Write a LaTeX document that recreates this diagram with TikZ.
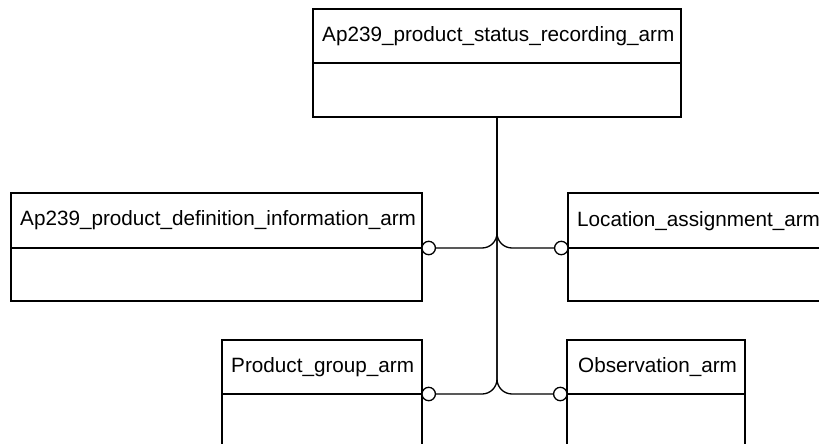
\documentclass[tikz,border=0pt]{standalone}
\usepackage{fontspec}
\setmainfont{Liberation Sans}
\begin{document}
\begin{tikzpicture}[x=1pt,y=1pt,
  box/.style={draw, line width=1.3pt, minimum height=108pt, anchor=north west, inner sep=0pt, outer sep=0pt},
  lbl/.style={anchor=base west, inner sep=0pt, font=\fontsize{20.7}{24}\selectfont},
  ring/.style={circle, draw, fill=white, line width=1.3pt, minimum size=13.4pt, inner sep=0pt, outer sep=0pt},
  conn/.style={line width=1.3pt, rounded corners=15pt},
  divider/.style={line width=1.3pt}]
\useasboundingbox (0,0) rectangle (819,-444);
\clip (0,0) rectangle (819,-444);
% boxes
\node[box, minimum width=368pt] (top) at (313,-9) {};
\node[box, minimum width=411pt] (pdi) at (11,-193) {};
\node[box, minimum width=262pt] (loc) at (568,-193) {};
\node[box, minimum width=200pt] (pg)  at (222,-340) {};
\node[box, minimum width=178pt] (obs) at (567,-340) {};
% dividers
\draw[divider] ([yshift=-54pt]top.north west) -- ([yshift=-54pt]top.north east);
\draw[divider] ([yshift=-55pt]pdi.north west) -- ([yshift=-55pt]pdi.north east);
\draw[divider] ([yshift=-55pt]loc.north west) -- ([yshift=-55pt]loc.north east);
\draw[divider] ([yshift=-54pt]pg.north west) -- ([yshift=-54pt]pg.north east);
\draw[divider] ([yshift=-54pt]obs.north west) -- ([yshift=-54pt]obs.north east);
% labels
\node[lbl] (topt) at ([xshift=9pt,yshift=-32.5pt]top.north west) {Ap239\_product\_status\_recording\_arm};
\node[lbl] (pdit) at ([xshift=9pt,yshift=-32.5pt]pdi.north west) {Ap239\_product\_definition\_information\_arm};
\node[lbl] (loct) at ([xshift=9pt,yshift=-33.5pt]loc.north west) {Location\_assignment\_arm};
\node[lbl] (pgt)  at ([xshift=9pt,yshift=-32pt]pg.north west) {Product\_group\_arm};
\node[lbl] (obst) at ([xshift=11pt,yshift=-32pt]obs.north west) {Observation\_arm};
% rings
\node[ring] (r1) at ([xshift=6.7pt,yshift=-55pt]pdi.north east) {};
\node[ring] (r2) at ([xshift=-6.7pt,yshift=-55pt]loc.north west) {};
\node[ring] (r3) at ([xshift=6.7pt,yshift=-54pt]pg.north east) {};
\node[ring] (r4) at ([xshift=-6.7pt,yshift=-54pt]obs.north west) {};
% connectors
\draw[conn] (top.south) -- (top.south |- r1) -- (r1);
\draw[conn] (top.south) -- (top.south |- r2) -- (r2);
\draw[conn] (top.south) -- (top.south |- r3) -- (r3);
\draw[conn] (top.south) -- (top.south |- r4) -- (r4);
\end{tikzpicture}
\end{document}
